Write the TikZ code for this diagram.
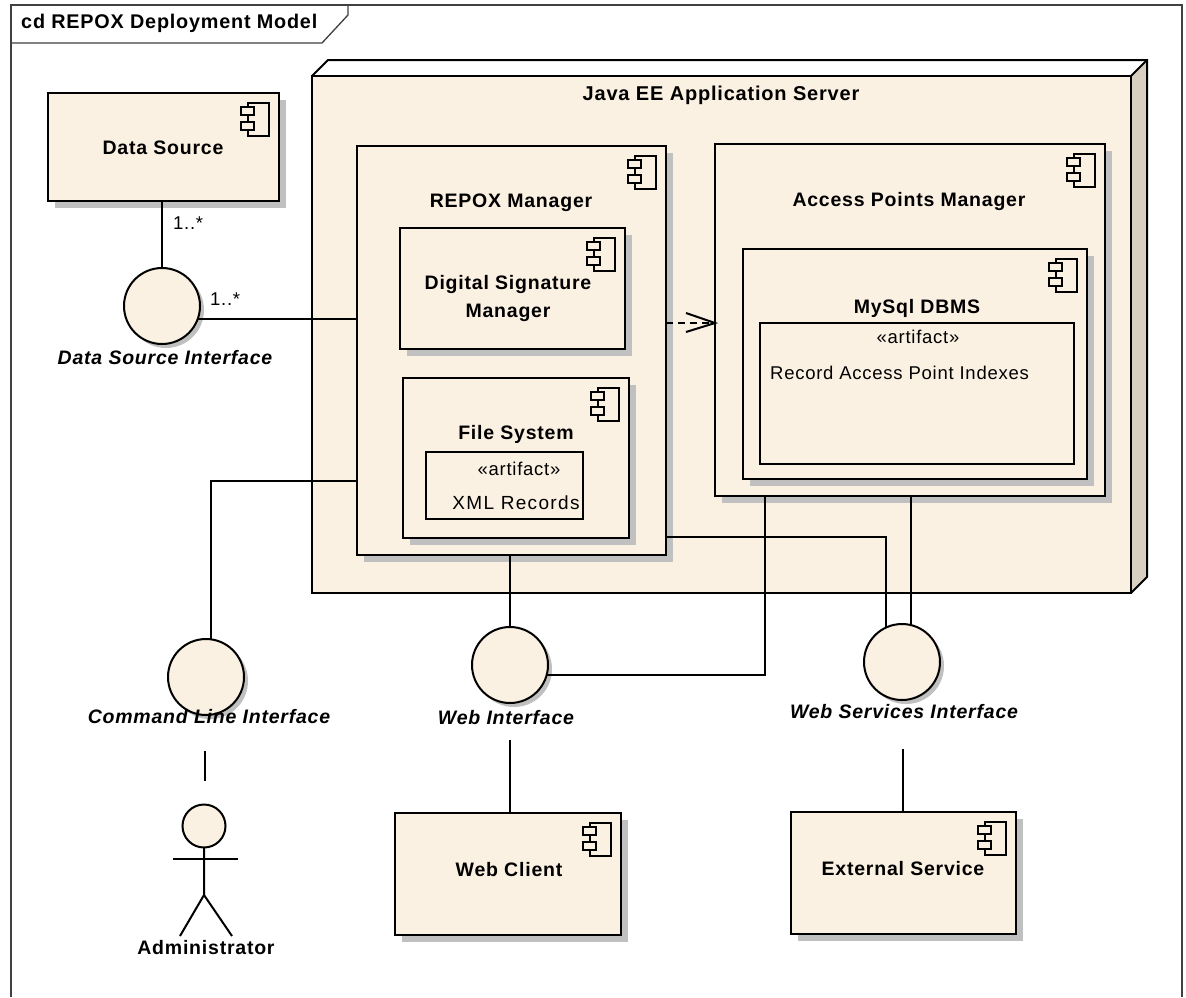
\documentclass[tikz,border=0pt]{standalone}
\usepackage{fontspec}
\setmainfont{Liberation Sans}
\newfontfamily\lblB[LetterSpace=4]{Liberation Sans Bold}
\newfontfamily\lblI[LetterSpace=4]{Liberation Sans Bold Italic}
\newfontfamily\lblR[LetterSpace=4]{Liberation Sans}
\newfontfamily\lblW[LetterSpace=7]{Liberation Sans}
\definecolor{beige}{HTML}{FBF1E3}
\definecolor{shadowc}{HTML}{C0C0C0}
\definecolor{sidec}{HTML}{D9CFC0}
\definecolor{ink}{HTML}{000000}
\tikzset{
  x=1pt,y=-1pt,
  ln/.style={line width=2pt,draw=ink},
  conn/.style={line width=2pt,draw=ink},
  bx/.style={rectangle,draw=ink,line width=2pt,fill=beige,inner sep=0pt,outer sep=0pt,anchor=north west},
  circ/.style={circle,draw=ink,line width=2pt,fill=beige,minimum size=76pt,inner sep=0pt,outer sep=0pt},
  bold/.style={font=\lblB\fontsize{19.5}{28}\selectfont,text=ink,inner sep=0pt},
  ital/.style={font=\lblI\fontsize{19.5}{24}\selectfont,text=ink,inner sep=0pt},
  reg/.style={font=\lblR\fontsize{18.5}{24}\selectfont,text=ink,inner sep=0pt},
}
% \comp{name}{x1}{y1}{x2}{y2}: component box with shadow and icon
\newcommand{\comp}[5]{%
  \fill[shadowc] (#2+7,#3+7) rectangle (#4+7,#5+7);
  \node[bx,minimum width=#4-#2,minimum height=#5-#3] (#1) at (#2,#3) {};
  \begin{scope}[shift={(#1.north east)}]
    \draw[line width=1.6pt,draw=ink] (-31,10) rectangle (-10,43);
    \draw[line width=1.6pt,draw=ink,fill=beige] (-38,14) rectangle (-25,22);
    \draw[line width=1.6pt,draw=ink,fill=beige] (-38,29) rectangle (-25,37);
  \end{scope}}
\newcommand{\iface}[3]{%
  \fill[shadowc] (#2+4,#3+4) circle[radius=38];
  \node[circ] (#1) at (#2,#3) {};}
\newcommand{\artf}[5]{%
  \node[bx,minimum width=#4-#2,minimum height=#5-#3] (#1) at (#2,#3) {};}
\begin{document}
\begin{tikzpicture}
\useasboundingbox (0,0) rectangle (1186,997);
\fill[white] (0,0) rectangle (1186,997);
% frame
\draw[line width=1.3pt,draw=black!75] (11,997) -- (11,5) -- (1182,5) -- (1182,997);
\draw[line width=1.3pt,draw=black!75] (11,43) -- (322,43) -- (348,15) -- (348,5);
\node[bold,anchor=west,font=\lblB\fontsize{19.8}{24}\selectfont] (title) at (21,23) {cd REPOX Deployment Model};
% application server
\fill[white] (312,76) -- (328,60) -- (1147,60) -- (1131,76) -- cycle;
\fill[sidec] (1131,76) -- (1147,60) -- (1147,577) -- (1131,593) -- cycle;
\node[bx,minimum width=819,minimum height=517] (srv) at (312,76) {};
\draw[ln,line join=miter] (srv.north west) -- (328,60) -- (1147,60) -- (1147,577) -- (srv.south east);
\draw[ln] (srv.north east) -- (1147,60);
\node[bold,font=\lblB\fontsize{20}{24}\selectfont] (srvt) at (721,95) {Java EE Application Server};
% components
\comp{ds}{48}{93}{279}{201}
\node[bold] (dst) at (163,148) {Data Source};
\comp{rm}{357}{146}{666}{555}
\node[bold] (rmt) at (511,203) {REPOX Manager};
\comp{dsm}{400}{228}{625}{349}
\node[bold,align=center] (dsmt) at (508,298) {Digital Signature\\Manager};
\comp{fs}{403}{378}{629}{538}
\node[bold] (fst) at (516,434) {File System};
\artf{fsa}{426}{452}{583}{519}
\node[reg] (fsa1) at (519,469) {«artifact»};
\node[reg,font=\lblW\fontsize{19}{24}\selectfont] (fsa2) at (516,503) {XML Records};
\comp{apm}{715}{144}{1105}{496}
\node[bold] (apmt) at (909,201) {Access Points Manager};
\comp{my}{743}{249}{1087}{479}
\node[bold] (myt) at (917,308) {MySql DBMS};
\artf{mya}{760}{323}{1074}{464}
\node[reg] (mya1) at (918,337) {«artifact»};
\node[reg,anchor=west] (mya2) at (770,373) {Record Access Point Indexes};
\comp{wc}{395}{813}{621}{935}
\node[bold] (wct) at (509,870) {Web Client};
\comp{es}{791}{812}{1016}{934}
\node[bold] (est) at (903,869) {External Service};
% interfaces
\iface{dsi}{162}{306}
\iface{cli}{206}{677}
\iface{wi}{510}{665}
\iface{wsi}{902}{662}
\node[ital] (dsil) at (165,358) {Data Source Interface};
\node[ital] (clil) at (209,717) {Command Line Interface};
\node[ital] (wil) at (506,718) {Web Interface};
\node[ital] (wsil) at (904,712) {Web Services Interface};
% actor
\node[circle,draw=ink,line width=2pt,fill=beige,minimum size=43pt,inner sep=0pt,outer sep=0pt] (head) at (204,826) {};
\draw[ln] (head.south) -- (204,895) -- (180,936);
\draw[ln] (204,895) -- (232,936);
\draw[ln] (173,859) -- (238,859);
\node[bold] (adm) at (206,948) {Administrator};
% connectors
\draw[conn] (dsi.north |- ds.south) -- (dsi.north);
\draw[conn] (dsi.-20) -- (rm.west |- dsi.-20);
\node[reg,anchor=west] (m1) at (173,223) {1..*};
\node[reg,anchor=west] (m2) at (210,299) {1..*};
\draw[conn] (cli.82) |- (rm.west |- 0,481);
\draw[conn] (cli.south) ++(-1,36) -- ++(0,30);
\draw[conn] (wi.north |- rm.south) -- (wi.north);
\draw[conn] (wi.-15) -| (apm.south -| 765,0);
\draw[conn] (wi.south) ++(0,37) -- (wc.north -| wi.south);
\draw[conn] (rm.east |- 0,537) -| (wsi.115);
\draw[conn] (wsi.77 |- apm.south) -- (wsi.77);
\draw[conn] (wsi.south) ++(1,49) -- (es.north -| 903,0);
\draw[line width=2pt,draw=ink,dash pattern=on 7pt off 5pt] (rm.east |- 0,323) -- (apm.west |- 0,323);
\draw[line width=2pt,draw=ink,line join=miter] (686,313) -- (apm.west |- 0,323) -- (686,332);
\end{tikzpicture}
\end{document}
